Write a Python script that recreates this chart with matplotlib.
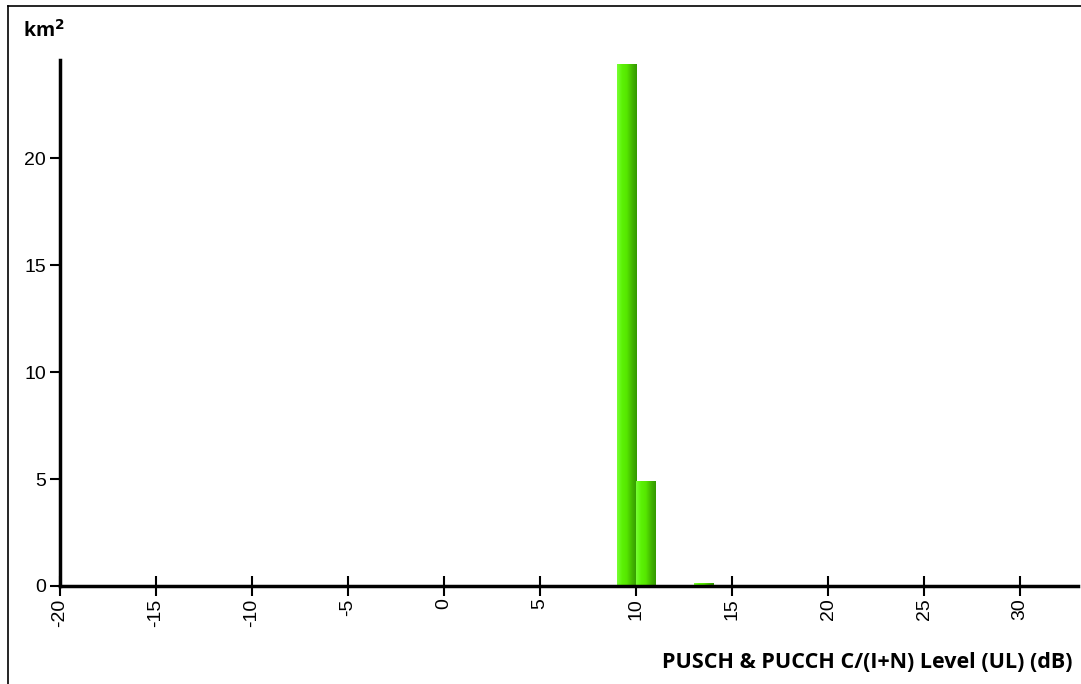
import numpy as np
import matplotlib.pyplot as plt
from matplotlib.colors import LinearSegmentedColormap
from matplotlib.lines import Line2D

# Histogram-style bins (dB) and area values (km²)
bin_left = [9, 10, 13]
bin_right = [10, 11, 14]
area_km2 = [24.4, 4.87, 0.1]

xticks = [-20, -15, -10, -5, 0, 5, 10, 15, 20, 25, 30]
yticks = [0, 5, 10, 15, 20]

fig = plt.figure(figsize=(10.81, 6.84), dpi=100)
ax = fig.add_axes([0.0555, 0.1433, 0.9415, 0.769])

# green gradient, light on left, dark on the right edge
green = LinearSegmentedColormap.from_list(
    "bar", ["#77ff33", "#5cf206", "#55e600", "#44b800", "#339900"])
grad = np.linspace(0, 1, 64).reshape(1, -1)
for x0, x1, h in zip(bin_left, bin_right, area_km2):
    ax.imshow(grad, cmap=green, aspect="auto", extent=(x0, x1, 0, h),
              interpolation="bilinear", zorder=2)

ax.set_xlim(-20, 33)
ax.set_ylim(0, 24.6)

for s in ["top", "right"]:
    ax.spines[s].set_visible(False)
for s in ["left", "bottom"]:
    ax.spines[s].set_linewidth(2.5)
    ax.spines[s].set_zorder(5)

ax.set_xticks(xticks)
ax.set_xticklabels([str(t) for t in xticks], rotation=90, family="Liberation Sans", fontsize=14)
ax.set_yticks(yticks)
ax.set_yticklabels([str(t) for t in yticks], family="Liberation Sans", fontsize=14)
ax.tick_params(axis="x", direction="inout", length=14, width=1.5, pad=2)
ax.tick_params(axis="y", direction="out", length=7, width=1.5, pad=3)

fig.text(0.021, 0.955, "km$^\\mathbf{2}$", fontsize=14, fontweight="bold",
         family="Open Sans", ha="left", va="center")
fig.text(0.992, 0.032, "PUSCH & PUCCH C/(I+N) Level (UL) (dB)", fontsize=15.5,
         fontweight="bold", family="Open Sans", ha="right", va="center")

# outer frame (left and top edges)
fig.add_artist(Line2D([0.0074, 0.0074], [0, 0.991], transform=fig.transFigure, color="black", lw=1.2))
fig.add_artist(Line2D([0.0074, 1.0], [0.991, 0.991], transform=fig.transFigure, color="black", lw=1.2))

fig.savefig("out.png", dpi=100)
